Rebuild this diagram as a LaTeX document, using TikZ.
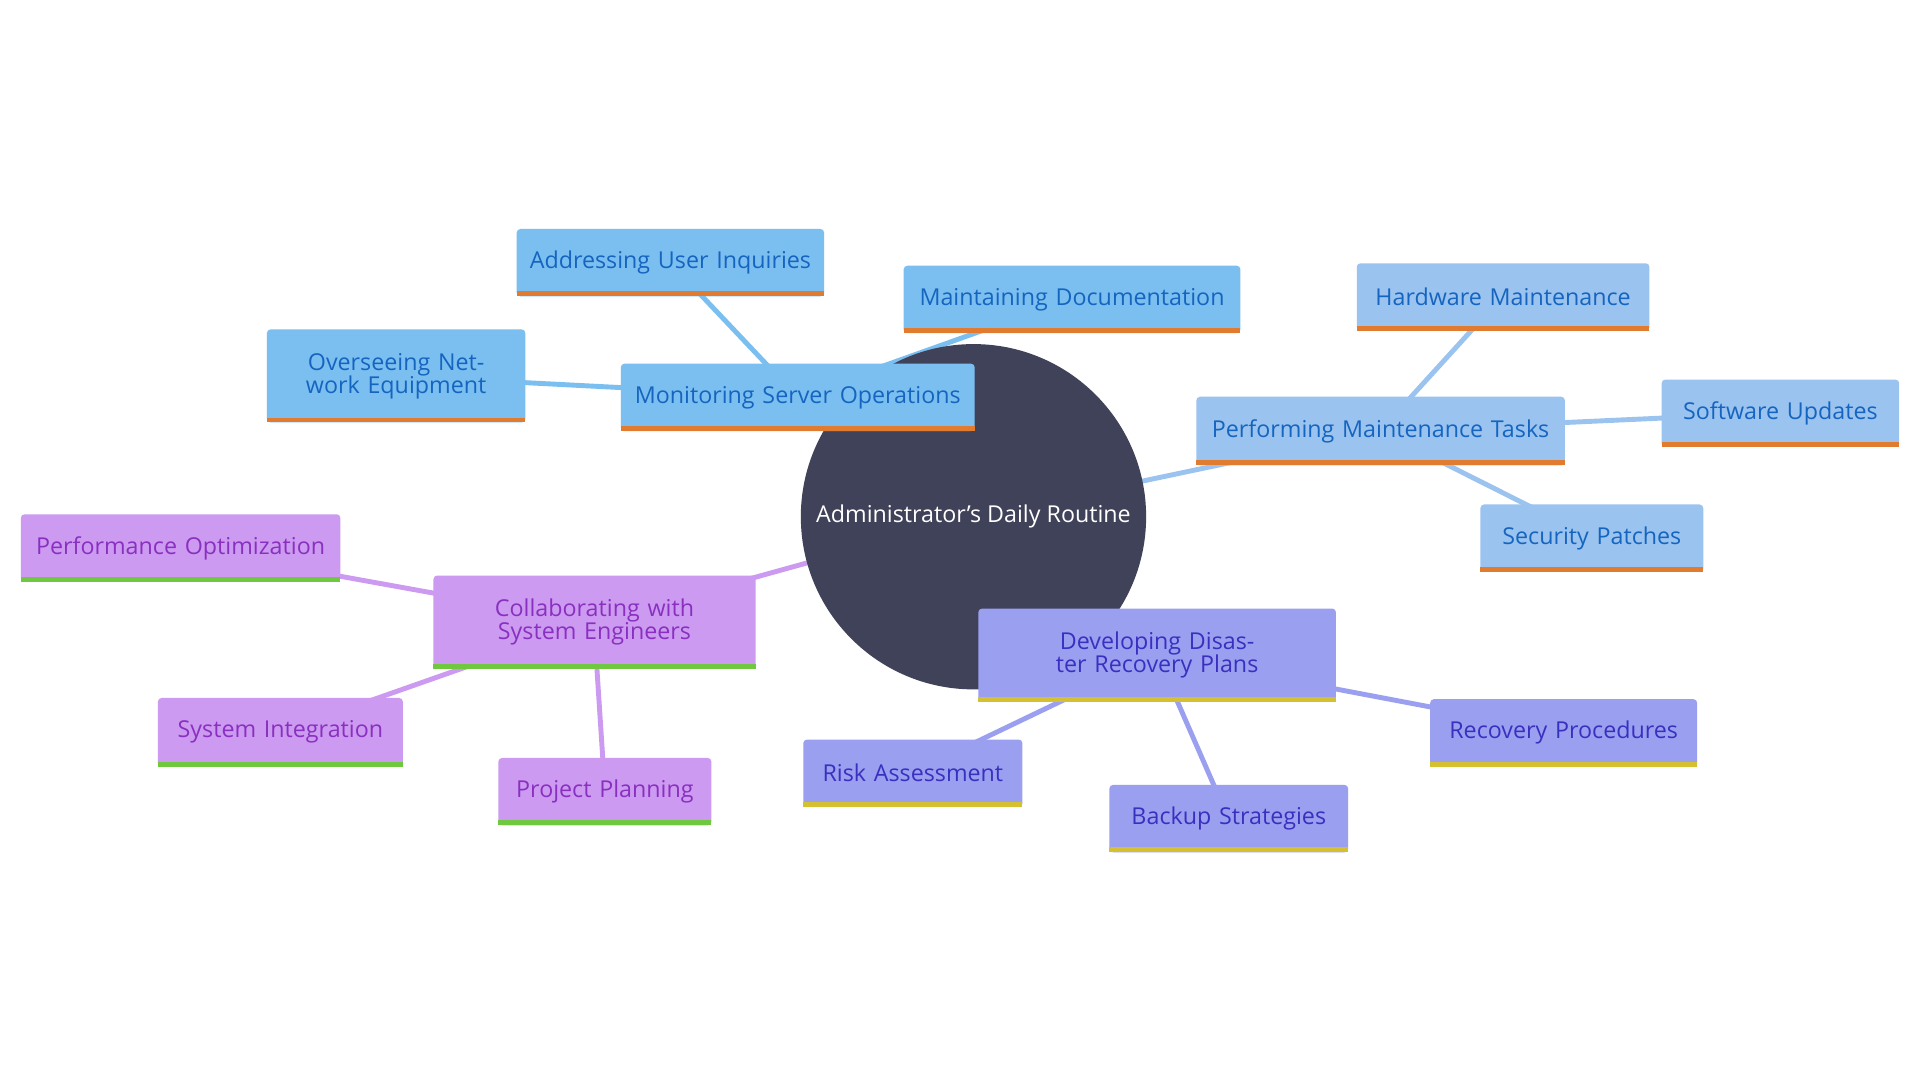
\documentclass[tikz,border=0pt]{standalone}
\usepackage{fontspec}
\setmainfont{Open Sans}
\definecolor{hub}{HTML}{404259}
\definecolor{fa}{HTML}{7BBFF0}\definecolor{ta}{HTML}{1565C0}
\definecolor{fb}{HTML}{9AC3EF}
\definecolor{fc}{HTML}{9A9FF0}\definecolor{tc}{HTML}{3A30C0}
\definecolor{fd}{HTML}{CC9AF0}\definecolor{td}{HTML}{8A30C0}
\definecolor{orangebar}{HTML}{E07B30}\definecolor{yellowbar}{HTML}{D4C030}\definecolor{greenbar}{HTML}{70C840}
% name, x1,y1,x2,y2, fill, textcolor, barcolor, label
\newcommand\bx[9]{%
  \node[fill=#6,rounded corners=3pt,inner sep=0pt,minimum width={#4-#2},minimum height={#5-#3},
        text width={#4-#2-16},align=center,text=#7,font=\fontsize{19}{19}\selectfont]
        (#1) at ({(#2+#4)/2},{(#3+#5)/2}) {#9};
  \fill[#8] (#2,#5-4) rectangle (#4,#5);}
\begin{document}
\begin{tikzpicture}[x=1pt,y=-1pt,line cap=round]
\useasboundingbox[fill=white] (0,0) rectangle (1568,882);
\coordinate (c) at (795,422);
% edges
\begin{scope}[line width=4pt]
\draw[fa] (c) -- (651,324); \draw[fa] (651,324) -- (547,214); \draw[fa] (651,324) -- (875,244); \draw[fa] (651,324) -- (323,307);
\draw[fb] (c) -- (1127,352); \draw[fb] (1127,352) -- (1227,242); \draw[fb] (1127,352) -- (1454,337); \draw[fb] (1127,352) -- (1300,439);
\draw[fc] (c) -- (945,535); \draw[fc] (945,535) -- (1277,598); \draw[fc] (945,535) -- (745,631); \draw[fc] (945,535) -- (1003,668);
\draw[fd] (c) -- (485,508); \draw[fd] (485,508) -- (147,447); \draw[fd] (485,508) -- (229,598); \draw[fd] (485,508) -- (494,646);
\end{scope}
\node[circle,fill=hub,minimum size=282pt,inner sep=0pt,text=white,font=\fontsize{19}{19}\selectfont] (hub) at (c) {Administrator's Daily Routine};
\bx{mon}{507}{297}{796}{352}{fa}{ta}{orangebar}{Monitoring Server Operations}
\bx{aui}{422}{187}{673}{242}{fa}{ta}{orangebar}{Addressing User Inquiries}
\bx{doc}{738}{217}{1013}{272}{fa}{ta}{orangebar}{Maintaining Documentation}
\bx{net}{218}{269}{429}{345}{fa}{ta}{orangebar}{Overseeing Network Equipment}
\bx{pmt}{977}{324}{1278}{380}{fb}{ta}{orangebar}{Performing Maintenance Tasks}
\bx{hw}{1108}{215}{1347}{270}{fb}{ta}{orangebar}{Hardware Maintenance}
\bx{sw}{1357}{310}{1551}{365}{fb}{ta}{orangebar}{Software Updates}
\bx{sec}{1209}{412}{1391}{467}{fb}{ta}{orangebar}{Security Patches}
\bx{drp}{799}{497}{1091}{573}{fc}{tc}{yellowbar}{Developing Disaster Recovery Plans}
\bx{rec}{1168}{571}{1386}{626}{fc}{tc}{yellowbar}{Recovery Procedures}
\bx{risk}{656}{604}{835}{659}{fc}{tc}{yellowbar}{Risk Assessment}
\bx{bak}{906}{641}{1101}{696}{fc}{tc}{yellowbar}{Backup Strategies}
\bx{col}{354}{470}{617}{546}{fd}{td}{greenbar}{Collaborating with System Engineers}
\bx{perf}{17}{420}{278}{475}{fd}{td}{greenbar}{Performance Optimization}
\bx{sint}{129}{570}{329}{626}{fd}{td}{greenbar}{System Integration}
\bx{proj}{407}{619}{581}{674}{fd}{td}{greenbar}{Project Planning}
\end{tikzpicture}
\end{document}
